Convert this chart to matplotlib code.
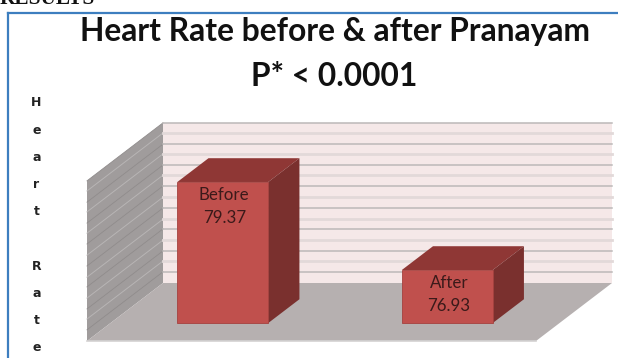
import matplotlib
matplotlib.use("Agg")
import matplotlib.pyplot as plt
from matplotlib.patches import Polygon

# Chart values
categories = ["Before", "After"]
heart_rate = [79.37, 76.93]
value_labels = ["79.37", "76.93"]
axis_min = 75.46
axis_max = 79.9
grid_major = [75.77, 76.35, 76.96, 77.54, 78.15, 78.73, 79.31, 79.9]
grid_minor = [76.07, 76.65, 77.23, 77.84, 78.45, 79.04, 79.62]
title_lines = ["Heart Rate before & after Pranayam", "P* < 0.0001"]
axis_title = "Heart Rate"

W, H = 618, 358

# Oblique projection: depth 0 is the front edge of the floor, depth 1 the back wall
PX_PER_UNIT = 36.07
PX_PER_CAT = 224.5
FLOOR_FRONT_PX = (87, 341)
DEPTH_DX = 76 / PX_PER_CAT
DEPTH_DY = 58 / PX_PER_UNIT
BAR_WIDTH = 0.405
BAR_DEPTH = (0.31, 0.72)


def project(x, value, depth=0.0):
    return (x + depth * DEPTH_DX, value + depth * DEPTH_DY)


def face(ax, points, color, zorder=2, edge="none"):
    ax.add_patch(Polygon([project(*p) for p in points], closed=True, facecolor=color,
                         edgecolor=edge, linewidth=0.6, zorder=zorder))


fig = plt.figure(figsize=(W / 100, H / 100), dpi=100)
ax = fig.add_axes([0, 0, 1, 1])
x0 = -0.5 - FLOOR_FRONT_PX[0] / PX_PER_CAT
ax.set_xlim(x0, x0 + W / PX_PER_CAT)
y0 = axis_min - (H - FLOOR_FRONT_PX[1]) / PX_PER_UNIT
ax.set_ylim(y0, y0 + H / PX_PER_UNIT)
ax.axis("off")

left, right = -0.5, 1.5

# walls and floor
face(ax, [(left, axis_min, 1), (right, axis_min, 1), (right, axis_max, 1), (left, axis_max, 1)], "#f5e8e8", 1)
face(ax, [(left, axis_min, 0), (left, axis_min, 1), (left, axis_max, 1), (left, axis_max, 0)], "#a09c9c", 1)
face(ax, [(left, axis_min, 0), (right, axis_min, 0), (right, axis_min, 1), (left, axis_min, 1)], "#b6b0b0", 1.5)

# gridlines run along the back wall and then down the side wall
for value in grid_minor:
    xs, ys = zip(project(left, value, 0), project(left, value, 1))
    ax.plot(xs, ys, color="#b8b5b5", lw=0.7, zorder=1.2)
    xs, ys = zip(project(left, value, 1), project(right, value, 1))
    ax.plot(xs, ys, color="#e2d9d9", lw=2.0, zorder=1.2)
for value in grid_major:
    xs, ys = zip(project(left, value, 0), project(left, value, 1))
    ax.plot(xs, ys, color="#908c8c", lw=0.6, zorder=1.3)
    xs, ys = zip(project(left, value, 1), project(right, value, 1))
    ax.plot(xs, ys, color="#bcb8b8", lw=1.1, zorder=1.3)

ax.plot([left, right], [axis_min, axis_min], color="#d4d2d2", lw=1.2, zorder=1.6)

# 3D bars
d1, d2 = BAR_DEPTH
for i, (name, value, label) in enumerate(zip(categories, heart_rate, value_labels)):
    a, b = i - BAR_WIDTH / 2, i + BAR_WIDTH / 2
    face(ax, [(a, value, d1), (b, value, d1), (b, value, d2), (a, value, d2)], "#8f3735", 3)
    face(ax, [(b, axis_min, d1), (b, axis_min, d2), (b, value, d2), (b, value, d1)], "#7a302e", 3)
    face(ax, [(a, axis_min, d1), (b, axis_min, d1), (b, value, d1), (a, value, d1)], "#c0504d", 4, "#a5423f")
    cx, top = project(i, value, d1)
    ax.annotate(name, (cx, top), xytext=(1.5, -13), textcoords="offset pixels", ha="center", va="center",
                fontsize=12.2, family="Lato", color="#3b1a1a", zorder=5)
    ax.annotate(label, (cx, top), xytext=(1.5, -36), textcoords="offset pixels", ha="center", va="center",
                fontsize=12.2, family="Lato", color="#3b1a1a", zorder=5)

# frame of the chart area, only top and left are in view
ax.plot([8 / PX_PER_CAT + x0] * 2, [y0, y0 + (H - 13) / PX_PER_UNIT], color="#3d7ebf", lw=1.6, zorder=6)
ax.plot([8 / PX_PER_CAT + x0, x0 + W / PX_PER_CAT], [y0 + (H - 13) / PX_PER_UNIT] * 2, color="#3d7ebf", lw=1.6, zorder=6)

# heading cut off by the top edge
fig.text(0, 1 - 4 / H, "RESULTS", family="Liberation Serif", fontweight="bold", fontsize=15.4,
         color="#111111", ha="left", va="baseline")

fig.text(335 / W, 1 - 32 / H, title_lines[0], family="Lato", fontweight="bold", fontsize=22.9,
         color="#111111", ha="center", va="center")
fig.text(334 / W, 1 - 76 / H, title_lines[1], family="Lato", fontweight="bold", fontsize=22.9,
         color="#111111", ha="center", va="center")

# stacked axis title, one letter per row
row_y = 103
for letter in axis_title:
    if letter != " ":
        fig.text(36.5 / W, 1 - row_y / H, letter, family="DejaVu Sans", fontweight="bold", fontsize=9,
                 color="#222222", ha="center", va="center")
    row_y += 27.2

fig.savefig("out.png", dpi=100)
